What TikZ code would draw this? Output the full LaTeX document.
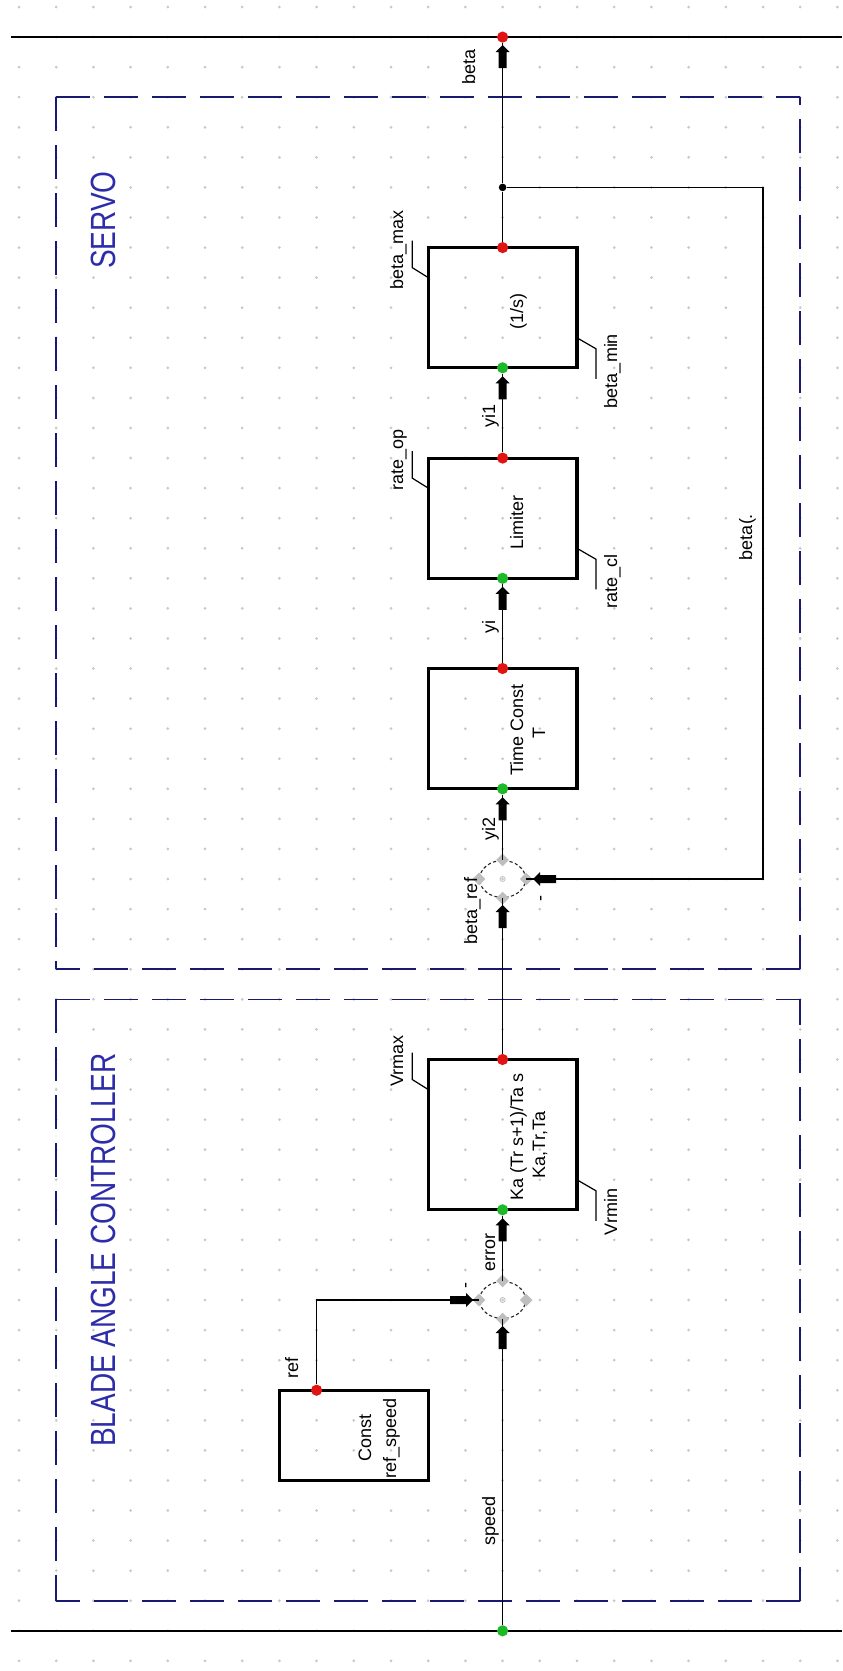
\documentclass[tikz,border=0pt]{standalone}
\usepackage{graphicx}
\usepackage{fontspec}
\setmainfont{Liberation Sans}
\usetikzlibrary{shapes.geometric,calc}
\definecolor{portred}{RGB}{225,20,20}
\definecolor{portgreen}{RGB}{30,185,40}
\definecolor{titleblue}{RGB}{45,45,170}
\definecolor{boxnavy}{RGB}{25,25,110}
\definecolor{griddot}{RGB}{200,200,200}
\definecolor{sumgray}{RGB}{190,190,190}
\begin{document}
\begin{tikzpicture}[x=0.5pt,y=-0.5pt,
  sig/.style={line width=0.75pt},
  bus/.style={line width=1.1pt},
  blk/.style={draw, line width=1.6pt, inner sep=0pt, outer sep=0pt, minimum width=74.4pt},
  outport/.style={circle, fill=portred, inner sep=0pt, minimum size=5.6pt},
  inport/.style={circle, fill=portgreen, inner sep=0pt, minimum size=5.6pt},
  jdot/.style={circle, fill=black, inner sep=0pt, minimum size=3.8pt},
  lbl/.style={rotate=90, anchor=base, font=\fontsize{9}{11}\selectfont, inner sep=0pt},
  ttl/.style={rotate=90, anchor=base, font=\fontsize{14}{16}\selectfont, text=titleblue, inner sep=0pt},
  leader/.style={line width=0.6pt},
  grp/.style={draw=boxnavy, line width=0.8pt, dash pattern=on 17pt off 7pt},
  summer/.style={ellipse, draw=black!85, line width=0.55pt, dash pattern=on 1.6pt off 1.2pt, minimum width=23pt, minimum height=18.5pt, inner sep=0pt},
  sdot/.style={diamond, fill=sumgray, inner sep=0pt, minimum size=6.5pt},
  arrup/.pic={\fill[black] (0pt,0pt) -- (3.5pt,-3.5pt) -- (2pt,-3.5pt) -- (2pt,-11.5pt) -- (-2pt,-11.5pt) -- (-2pt,-3.5pt) -- (-3.5pt,-3.5pt) -- cycle;}]
\useasboundingbox (0,0) rectangle (842,1671);
\fill[white] (0,0) rectangle (842,1671);
% dot grid
\foreach \i in {0,...,22}
  \foreach \j in {0,...,55}
    \fill[griddot] ({19+37.2*\i},{7+30.07*\j}) circle (0.75pt);
% group frames (each side starts at a corner)
\coordinate (sa) at (56.2,97.2); \coordinate (sb) at (800.2,97.2);
\coordinate (sc) at (800.2,969.2); \coordinate (sd) at (56.2,969.2);
\coordinate (ca) at (56.2,999.3); \coordinate (cb) at (800.2,999.3);
\coordinate (cc) at (800.2,1600.7); \coordinate (cd) at (56.2,1600.7);
\draw[grp] (sa) -- (sb); \draw[grp] (sa) -- (sd); \draw[grp] (sc) -- (sb); \draw[grp] (sc) -- (sd);
\draw[grp] (ca) -- (cb); \draw[grp] (ca) -- (cd); \draw[grp] (cc) -- (cb); \draw[grp] (cc) -- (cd);
\node[ttl] (tservo) at (115,220) {\scalebox{1}[1.25]{SERVO}};
\node[ttl] (tbac) at (115,1250) {\scalebox{1}[1.25]{BLADE ANGLE CONTROLLER}};
% buses
\coordinate (tl) at (11,37.07); \coordinate (tr) at (842,37.07);
\coordinate (bl) at (11,1630.8); \coordinate (br) at (842,1630.8);
\draw[bus] (tl) -- (tr);
\draw[bus] (bl) -- (br);
\node[outport] (pbeta) at (502.6,37.07) {};
\node[inport] (pspeed) at (502.6,1630.8) {};
% blocks
\node[blk, minimum height=60.1pt] (b1) at (502.6,307.7) {};
\node[blk, minimum height=60.1pt] (b2) at (502.6,518.2) {};
\node[blk, minimum height=60.15pt] (b3) at (502.6,728.65) {};
\node[blk, minimum height=75.15pt] (b4) at (502.6,1134.65) {};
\node[blk, minimum height=45.1pt] (bc) at (353.8,1435.3) {};
% summers
\node[summer] (s1) at (502.6,879) {};
\node[summer] (s2) at (502.6,1300) {};
\foreach \s in {s1,s2}{
  \foreach \a in {north,south,east,west}
    \node[sdot] at (\s.\a) {};
  \node[circle, draw=sumgray, line width=0.4pt, inner sep=0pt, minimum size=2.5pt] at (\s) {};
}
% ports
\node[outport] (b1o) at (b1.north) {}; \node[inport] (b1i) at (b1.south) {};
\node[outport] (b2o) at (b2.north) {}; \node[inport] (b2i) at (b2.south) {};
\node[outport] (b3o) at (b3.north) {}; \node[inport] (b3i) at (b3.south) {};
\node[outport] (b4o) at (b4.north) {}; \node[inport] (b4i) at (b4.south) {};
\node[outport] (bco) at ($(bc.north west)!0.25!(bc.north east)$) {};
\node[jdot] (jn) at (502.6,187.4) {};
% connectors
\draw[sig] (pspeed) -- (s2.south);
\draw[sig] (s2.north) -- (b4i);
\draw[sig] (b4o) -- (s1.south);
\draw[sig] (s1.north) -- (b3i);
\draw[sig] (b3o) -- (b2i);
\draw[sig] (b2o) -- (b1i);
\draw[sig] (b1o) -- (jn);
\draw[sig] (jn) -- (pbeta);
\coordinate (fb1) at (763,187.4);
\coordinate (fb2) at (763,879);
\draw[sig] (jn) -- (fb1) -- (fb2) -- (s1.east);
\coordinate (rf) at (bco |- s2);
\draw[sig] (bco) -- (rf) -- (s2.west);
% input arrows
\pic at ($(pbeta)+(0,8)$) {arrup};
\pic at ($(b1.south)+(0,8.5)$) {arrup};
\pic at ($(b2.south)+(0,8.5)$) {arrup};
\pic at ($(b3.south)+(0,8.5)$) {arrup};
\pic at ($(b4.south)+(0,8.5)$) {arrup};
\pic at ($(s1.south)+(0,7)$) {arrup};
\pic at ($(s2.south)+(0,7)$) {arrup};
\pic[rotate=90] at ($(s1.east)+(7,0)$) {arrup};
\pic[rotate=-90] at ($(s2.west)+(-6,0)$) {arrup};
% signal labels
\node[lbl] (lbeta) at (475,67) {beta};
\node[lbl] (lyi1) at (495,416) {yi1};
\node[lbl] (lyi) at (495,627) {yi};
\node[lbl] (lyi2) at (495,829) {yi2};
\node[lbl] (lbref) at (477,911) {beta\_ref};
\node[lbl] (lerr) at (495,1252) {error};
\node[lbl] (lspeed) at (495,1521) {speed};
\node[lbl] (lref) at (298,1368) {ref};
\node[lbl] (lfb) at (752,537) {beta(.};
\node[rotate=90, font=\fontsize{9}{11}\selectfont, inner sep=0pt] (m1) at (543,898) {-};
\node[rotate=90, font=\fontsize{9}{11}\selectfont, inner sep=0pt] (m2) at (468,1285) {-};
% block parameter labels
\node[lbl] at (403,250) {beta\_max};
\node[lbl] at (403,460) {rate\_op};
\node[lbl] at (403,1061) {Vrmax};
\node[lbl] at (617,371) {beta\_min};
\node[lbl] at (617,581) {rate\_cl};
\node[lbl] at (617,1212) {Vrmin};
\foreach \b in {b1,b2,b4}{
  \draw[leader] ($(\b.north west)+(0,30)$) -- ++(-16,-10) -- ++(0,-27);
  \draw[leader] ($(\b.south east)+(0,-30)$) -- ++(19,11) -- ++(0,30);
}
% block texts
\node[lbl] at (523,311) {(1/s)};
\node[lbl] at (523,522) {Limiter};
\node[lbl] at (523,730) {Time Const};
\node[lbl] at (545,733) {T};
\node[lbl] at (523,1137) {Ka (Tr s+1)/Ta s};
\node[lbl] at (545,1145) {Ka,Tr,Ta};
\node[lbl] at (371,1438) {Const};
\node[lbl] at (396,1438) {ref\_speed};
\end{tikzpicture}
\end{document}
